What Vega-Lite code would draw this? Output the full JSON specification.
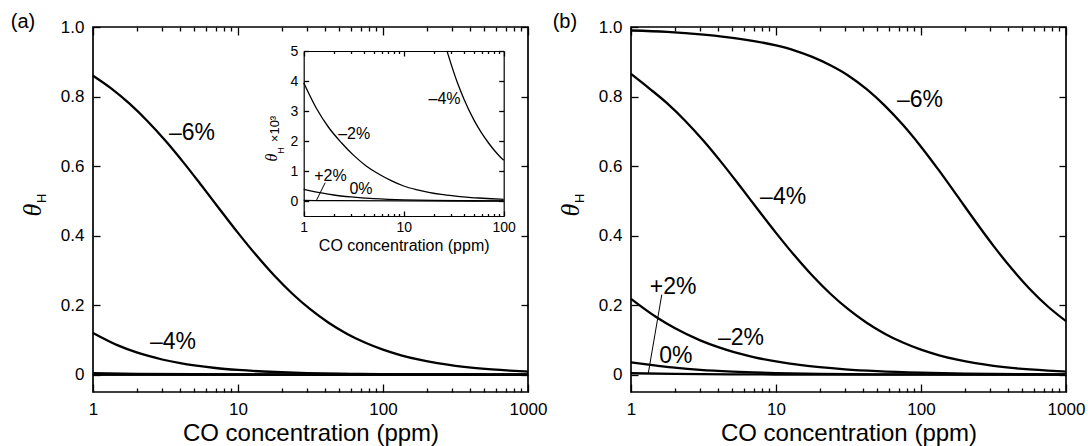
{
  "$schema": "https://vega.github.io/schema/vega-lite/v6.json",
  "padding": {"left": 9, "top": 11, "right": 0, "bottom": 0},
  "background": "white",
  "spacing": 3,
  "config": {
    "font": "Liberation Sans",
    "view": {"stroke": "black", "strokeWidth": 1.7},
    "axis": {"grid": false, "domain": false, "domainColor": "black", "tickColor": "black", "tickWidth": 1.3, "labelColor": "black", "titleColor": "black", "labelFont": "Liberation Sans", "titleFont": "Liberation Sans", "titleFontWeight": "normal", "labelFlush": false, "labelOverlap": false},
    "text": {"font": "Liberation Sans", "color": "black"}
  },
  "datasets": {
    "a": [
      {"x": 1, "y": 0.86, "s": "-6"}, {"x": 1.334, "y": 0.8236, "s": "-6"}, {"x": 1.778, "y": 0.7803, "s": "-6"}, {"x": 2.371, "y": 0.7298, "s": "-6"}, {"x": 3.162, "y": 0.6727, "s": "-6"}, {"x": 4.217, "y": 0.6099, "s": "-6"}, {"x": 5.623, "y": 0.5432, "s": "-6"}, {"x": 7.499, "y": 0.475, "s": "-6"}, {"x": 10, "y": 0.4077, "s": "-6"}, {"x": 13.34, "y": 0.3438, "s": "-6"}, {"x": 17.78, "y": 0.2849, "s": "-6"}, {"x": 23.71, "y": 0.2326, "s": "-6"}, {"x": 31.62, "y": 0.1874, "s": "-6"}, {"x": 42.17, "y": 0.1492, "s": "-6"}, {"x": 56.23, "y": 0.1177, "s": "-6"}, {"x": 74.99, "y": 0.0922, "s": "-6"}, {"x": 100, "y": 0.0717, "s": "-6"}, {"x": 133.4, "y": 0.0555, "s": "-6"}, {"x": 177.8, "y": 0.0428, "s": "-6"}, {"x": 237.1, "y": 0.0329, "s": "-6"}, {"x": 316.2, "y": 0.0252, "s": "-6"}, {"x": 421.7, "y": 0.0193, "s": "-6"}, {"x": 562.3, "y": 0.0148, "s": "-6"}, {"x": 749.9, "y": 0.0113, "s": "-6"}, {"x": 1000, "y": 0.0086, "s": "-6"},
      {"x": 1, "y": 0.12, "s": "-4"}, {"x": 1.5, "y": 0.0834, "s": "-4"}, {"x": 2, "y": 0.0638, "s": "-4"}, {"x": 3, "y": 0.0435, "s": "-4"}, {"x": 4, "y": 0.033, "s": "-4"}, {"x": 5, "y": 0.0265, "s": "-4"}, {"x": 7, "y": 0.019, "s": "-4"}, {"x": 10, "y": 0.0135, "s": "-4"}, {"x": 15, "y": 0.009, "s": "-4"}, {"x": 20, "y": 0.0068, "s": "-4"}, {"x": 30, "y": 0.0045, "s": "-4"}, {"x": 50, "y": 0.0027, "s": "-4"}, {"x": 70, "y": 0.0019, "s": "-4"}, {"x": 100, "y": 0.00136, "s": "-4"}, {"x": 200, "y": 0.00068, "s": "-4"}, {"x": 500, "y": 0.00027, "s": "-4"}, {"x": 1000, "y": 0.00014, "s": "-4"},
      {"x": 1, "y": 0.0039, "s": "-2"}, {"x": 2, "y": 0.0022, "s": "-2"}, {"x": 5, "y": 0.001, "s": "-2"}, {"x": 10, "y": 0.0005, "s": "-2"}, {"x": 30, "y": 0.00018, "s": "-2"}, {"x": 100, "y": 0.000056, "s": "-2"}, {"x": 1000, "y": 0.000006, "s": "-2"},
      {"x": 1, "y": 0.0004, "s": "0"}, {"x": 10, "y": 0.00004, "s": "0"}, {"x": 1000, "y": 0.0000004, "s": "0"},
      {"x": 1, "y": 0.00002, "s": "+2"}, {"x": 1000, "y": 0, "s": "+2"}
    ],
    "b": [
      {"x": 1, "y": 0.99, "s": "-6"}, {"x": 1.778, "y": 0.986, "s": "-6"}, {"x": 3.162, "y": 0.978, "s": "-6"}, {"x": 5.623, "y": 0.966, "s": "-6"}, {"x": 10, "y": 0.947, "s": "-6"}, {"x": 13.34, "y": 0.933, "s": "-6"}, {"x": 17.78, "y": 0.914, "s": "-6"}, {"x": 23.71, "y": 0.89, "s": "-6"}, {"x": 31.62, "y": 0.86, "s": "-6"}, {"x": 42.17, "y": 0.8212, "s": "-6"}, {"x": 56.23, "y": 0.774, "s": "-6"}, {"x": 74.99, "y": 0.7186, "s": "-6"}, {"x": 100, "y": 0.6557, "s": "-6"}, {"x": 133.4, "y": 0.5867, "s": "-6"}, {"x": 177.8, "y": 0.5142, "s": "-6"}, {"x": 237.1, "y": 0.4411, "s": "-6"}, {"x": 316.2, "y": 0.3705, "s": "-6"}, {"x": 421.7, "y": 0.305, "s": "-6"}, {"x": 562.3, "y": 0.2465, "s": "-6"}, {"x": 749.9, "y": 0.196, "s": "-6"}, {"x": 1000, "y": 0.1538, "s": "-6"},
      {"x": 1, "y": 0.865, "s": "-4"}, {"x": 1.334, "y": 0.8236, "s": "-4"}, {"x": 1.778, "y": 0.7803, "s": "-4"}, {"x": 2.371, "y": 0.7298, "s": "-4"}, {"x": 3.162, "y": 0.6727, "s": "-4"}, {"x": 4.217, "y": 0.6099, "s": "-4"}, {"x": 5.623, "y": 0.5432, "s": "-4"}, {"x": 7.499, "y": 0.475, "s": "-4"}, {"x": 10, "y": 0.4077, "s": "-4"}, {"x": 13.34, "y": 0.3438, "s": "-4"}, {"x": 17.78, "y": 0.2849, "s": "-4"}, {"x": 23.71, "y": 0.2326, "s": "-4"}, {"x": 31.62, "y": 0.1874, "s": "-4"}, {"x": 42.17, "y": 0.1492, "s": "-4"}, {"x": 56.23, "y": 0.1177, "s": "-4"}, {"x": 74.99, "y": 0.0922, "s": "-4"}, {"x": 100, "y": 0.0717, "s": "-4"}, {"x": 133.4, "y": 0.0555, "s": "-4"}, {"x": 177.8, "y": 0.0428, "s": "-4"}, {"x": 237.1, "y": 0.0329, "s": "-4"}, {"x": 316.2, "y": 0.0252, "s": "-4"}, {"x": 421.7, "y": 0.0193, "s": "-4"}, {"x": 562.3, "y": 0.0148, "s": "-4"}, {"x": 749.9, "y": 0.0113, "s": "-4"}, {"x": 1000, "y": 0.0086, "s": "-4"},
      {"x": 1, "y": 0.218, "s": "-2"}, {"x": 1.5, "y": 0.165, "s": "-2"}, {"x": 2, "y": 0.134, "s": "-2"}, {"x": 3, "y": 0.0986, "s": "-2"}, {"x": 4, "y": 0.079, "s": "-2"}, {"x": 5, "y": 0.066, "s": "-2"}, {"x": 7, "y": 0.0506, "s": "-2"}, {"x": 10, "y": 0.0379, "s": "-2"}, {"x": 15, "y": 0.0271, "s": "-2"}, {"x": 20, "y": 0.0214, "s": "-2"}, {"x": 30, "y": 0.0152, "s": "-2"}, {"x": 50, "y": 0.0099, "s": "-2"}, {"x": 100, "y": 0.0055, "s": "-2"}, {"x": 200, "y": 0.0031, "s": "-2"}, {"x": 500, "y": 0.0014, "s": "-2"}, {"x": 1000, "y": 0.0008, "s": "-2"},
      {"x": 1, "y": 0.035, "s": "0"}, {"x": 1.5, "y": 0.026, "s": "0"}, {"x": 2, "y": 0.02, "s": "0"}, {"x": 3, "y": 0.0135, "s": "0"}, {"x": 5, "y": 0.0085, "s": "0"}, {"x": 7, "y": 0.0062, "s": "0"}, {"x": 10, "y": 0.0045, "s": "0"}, {"x": 20, "y": 0.0023, "s": "0"}, {"x": 50, "y": 0.0009, "s": "0"}, {"x": 100, "y": 0.00045, "s": "0"}, {"x": 300, "y": 0.00015, "s": "0"}, {"x": 1000, "y": 0.00005, "s": "0"},
      {"x": 1, "y": 0.004, "s": "+2"}, {"x": 2, "y": 0.002, "s": "+2"}, {"x": 5, "y": 0.0008, "s": "+2"}, {"x": 10, "y": 0.0004, "s": "+2"}, {"x": 100, "y": 0.00004, "s": "+2"}, {"x": 1000, "y": 0.000004, "s": "+2"}
    ],
    "ins": [
      {"x": 27.1, "y": 5.0, "s": "-4"}, {"x": 30, "y": 4.53, "s": "-4"}, {"x": 35, "y": 3.88, "s": "-4"}, {"x": 40, "y": 3.4, "s": "-4"}, {"x": 50, "y": 2.72, "s": "-4"}, {"x": 60, "y": 2.27, "s": "-4"}, {"x": 70, "y": 1.95, "s": "-4"}, {"x": 80, "y": 1.7, "s": "-4"}, {"x": 90, "y": 1.51, "s": "-4"}, {"x": 100, "y": 1.36, "s": "-4"},
      {"x": 1, "y": 3.94, "s": "-2"}, {"x": 1.334, "y": 3.1, "s": "-2"}, {"x": 1.778, "y": 2.45, "s": "-2"}, {"x": 2.371, "y": 1.95, "s": "-2"}, {"x": 3.162, "y": 1.52, "s": "-2"}, {"x": 4.217, "y": 1.17, "s": "-2"}, {"x": 5.623, "y": 0.9, "s": "-2"}, {"x": 7.499, "y": 0.68, "s": "-2"}, {"x": 10, "y": 0.5, "s": "-2"}, {"x": 13.34, "y": 0.38, "s": "-2"}, {"x": 17.78, "y": 0.29, "s": "-2"}, {"x": 23.71, "y": 0.22, "s": "-2"}, {"x": 31.62, "y": 0.17, "s": "-2"}, {"x": 42.17, "y": 0.13, "s": "-2"}, {"x": 56.23, "y": 0.1, "s": "-2"}, {"x": 74.99, "y": 0.075, "s": "-2"}, {"x": 100, "y": 0.056, "s": "-2"},
      {"x": 1, "y": 0.39, "s": "0"}, {"x": 1.5, "y": 0.27, "s": "0"}, {"x": 2, "y": 0.2, "s": "0"}, {"x": 3, "y": 0.135, "s": "0"}, {"x": 5, "y": 0.08, "s": "0"}, {"x": 7, "y": 0.057, "s": "0"}, {"x": 10, "y": 0.04, "s": "0"}, {"x": 20, "y": 0.02, "s": "0"}, {"x": 50, "y": 0.008, "s": "0"}, {"x": 100, "y": 0.004, "s": "0"},
      {"x": 1, "y": 0.02, "s": "+2"}, {"x": 2, "y": 0.01, "s": "+2"}, {"x": 10, "y": 0.002, "s": "+2"}, {"x": 100, "y": 0.0002, "s": "+2"}
    ],
    "labA": [{"x": 4.82, "y": 0.695, "t": "–6%"}, {"x": 3.56, "y": 0.095, "t": "–4%"}],
    "labB": [{"x": 98.5, "y": 0.79, "t": "–6%"}, {"x": 11.2, "y": 0.51, "t": "–4%"}, {"x": 5.74, "y": 0.104, "t": "–2%"}, {"x": 2.04, "y": 0.055, "t": "0%"}, {"x": 1.95, "y": 0.251, "t": "+2%"}],
    "labI": [{"x": 25.6, "y": 3.39, "t": "–4%"}, {"x": 3.2, "y": 2.22, "t": "–2%"}, {"x": 1.85, "y": 0.83, "t": "+2%"}, {"x": 3.74, "y": 0.39, "t": "0%"}],
    "leadB": [{"x": 1.63, "y": 0.23, "x2": 1.316, "y2": 0.004}],
    "leadI": [{"x": 1.64, "y": 0.61, "x2": 1.34, "y2": 0.02}],
    "tagA": [{"x": 0.329, "y": 1.014, "t": "(a)"}],
    "tagB": [{"x": 0.35, "y": 1.014, "t": "(b)"}],
    "theta": [{"x": 0.386, "y": 0.473, "t": "θ"}],
    "sub": [{"x": 0.445, "y": 0.507, "t": "H"}],
    "thetaI": [{"x": 0.482, "y": 1.45, "t": "θ"}],
    "subI": [{"x": 0.588, "y": 1.68, "t": "H"}],
    "powI": [{"x": 0.516, "y": 2.4, "t": "×10³"}]
  },
  "hconcat": [
    {
      "width": 435,
      "height": 365,
      "layer": [
        {
          "layer": [
            {
              "data": {"name": "a"},
              "mark": {"type": "line", "stroke": "black", "strokeWidth": 2.3, "interpolate": "monotone"},
              "encoding": {
                "x": {"field": "x", "type": "quantitative", "scale": {"type": "log", "domain": [1, 1000], "nice": false}, "axis": {"orient": "bottom", "values": [1, 10, 100, 1000], "format": "d", "ticks": false, "labelPadding": 9, "labelFontSize": 17, "title": "CO concentration (ppm)", "titleFontSize": 24, "titlePadding": 4}},
                "y": {"field": "y", "type": "quantitative", "scale": {"domain": [-0.05, 1], "nice": false, "zero": false}, "axis": {"orient": "left", "values": [0, 0.2, 0.4, 0.6, 0.8, 1], "labelExpr": "datum.value == 0 ? '0' : format(datum.value, '.1f')", "ticks": false, "labelPadding": 9, "labelFontSize": 17, "title": null}},
                "detail": {"field": "s"}
              }
            },
            {
              "data": {"name": "labA"},
              "mark": {"type": "text", "fontSize": 23, "align": "center", "baseline": "middle"},
              "encoding": {
                "x": {"field": "x", "type": "quantitative", "scale": {"type": "log", "domain": [1, 1000], "nice": false}, "axis": {"orient": "top", "offset": -365, "values": [1, 10, 100, 1000], "tickSize": 8, "labels": false, "title": null}},
                "y": {"field": "y", "type": "quantitative", "scale": {"domain": [-0.05, 1], "nice": false, "zero": false}, "axis": {"orient": "right", "offset": -435, "values": [0, 0.2, 0.4, 0.6, 0.8, 1], "tickSize": 7, "labels": false, "title": null}},
                "text": {"field": "t"}
              }
            },
            {
              "data": {"name": "tagA"},
              "mark": {"type": "text", "fontSize": 20, "align": "center", "baseline": "middle"},
              "encoding": {
                "x": {"field": "x", "type": "quantitative", "scale": {"type": "log", "domain": [1, 1000], "nice": false}, "axis": {"orient": "top", "offset": -365, "values": [2, 3, 4, 5, 6, 7, 8, 9, 20, 30, 40, 50, 60, 70, 80, 90, 200, 300, 400, 500, 600, 700, 800, 900], "tickSize": 4, "labels": false, "title": null}},
                "y": {"field": "y", "type": "quantitative", "scale": {"domain": [-0.05, 1], "nice": false, "zero": false}, "axis": {"orient": "left", "offset": -435, "values": [0, 0.2, 0.4, 0.6, 0.8, 1], "tickSize": 7, "labels": false, "title": null}},
                "text": {"field": "t"}
              }
            },
            {
              "data": {"name": "theta"},
              "mark": {"type": "text", "fontSize": 26, "font": "Liberation Serif", "fontStyle": "italic", "angle": 270, "align": "center", "baseline": "middle"},
              "encoding": {
                "x": {"field": "x", "type": "quantitative", "scale": {"type": "log", "domain": [1, 1000], "nice": false}, "axis": {"orient": "bottom", "offset": -365, "values": [1, 10, 100, 1000], "tickSize": 8, "labels": false, "title": null}},
                "y": {"field": "y", "type": "quantitative", "scale": {"domain": [-0.05, 1], "nice": false, "zero": false}, "axis": null},
                "text": {"field": "t"}
              }
            },
            {
              "data": {"name": "sub"},
              "mark": {"type": "text", "fontSize": 13, "angle": 270, "align": "center", "baseline": "middle"},
              "encoding": {
                "x": {"field": "x", "type": "quantitative", "scale": {"type": "log", "domain": [1, 1000], "nice": false}, "axis": {"orient": "bottom", "offset": -365, "values": [2, 3, 4, 5, 6, 7, 8, 9, 20, 30, 40, 50, 60, 70, 80, 90, 200, 300, 400, 500, 600, 700, 800, 900], "tickSize": 4, "labels": false, "title": null}},
                "y": {"field": "y", "type": "quantitative", "scale": {"domain": [-0.05, 1], "nice": false, "zero": false}, "axis": null},
                "text": {"field": "t"}
              }
            }
          ],
          "resolve": {"axis": {"x": "independent", "y": "independent"}}
        },
        {
          "layer": [
            {
              "data": {"name": "ins"},
              "mark": {"type": "line", "stroke": "black", "strokeWidth": 1.3, "interpolate": "monotone"},
              "encoding": {
                "x": {"field": "x", "type": "quantitative", "scale": {"type": "log", "domain": [1, 100], "range": [210.7, 410.7], "nice": false}, "axis": {"orient": "bottom", "offset": -176, "values": [1, 10, 100], "format": "d", "ticks": false, "labelPadding": 4, "labelFontSize": 14, "title": "CO concentration (ppm)", "titleFontSize": 16, "titlePadding": 3, "domain": true, "domainWidth": 1.2}},
                "y": {"field": "y", "type": "quantitative", "scale": {"domain": [-0.5, 5], "range": [189, 24], "nice": false, "zero": false}, "axis": {"orient": "left", "offset": -210.7, "values": [0, 1, 2, 3, 4, 5], "ticks": false, "labelPadding": 6, "labelFontSize": 14, "title": null, "domain": true, "domainWidth": 1.2}},
                "detail": {"field": "s"}
              }
            },
            {
              "data": {"name": "labI"},
              "mark": {"type": "text", "fontSize": 16, "align": "center", "baseline": "middle"},
              "encoding": {
                "x": {"field": "x", "type": "quantitative", "scale": {"type": "log", "domain": [1, 100], "range": [210.7, 410.7], "nice": false}, "axis": {"orient": "top", "offset": -189, "values": [1, 10, 100], "tickSize": 5, "labels": false, "title": null}},
                "y": {"field": "y", "type": "quantitative", "scale": {"domain": [-0.5, 5], "range": [189, 24], "nice": false, "zero": false}, "axis": {"orient": "right", "offset": -224.3, "values": [0, 1, 2, 3, 4, 5], "tickSize": 5, "labels": false, "title": null}},
                "text": {"field": "t"}
              }
            },
            {
              "data": {"name": "leadI"},
              "mark": {"type": "rule", "stroke": "black", "strokeWidth": 1},
              "encoding": {
                "x": {"field": "x", "type": "quantitative", "scale": {"type": "log", "domain": [1, 100], "range": [210.7, 410.7], "nice": false}, "axis": {"orient": "top", "offset": -189, "values": [2, 3, 4, 5, 6, 7, 8, 9, 20, 30, 40, 50, 60, 70, 80, 90], "tickSize": 2.5, "labels": false, "title": null}},
                "y": {"field": "y", "type": "quantitative", "scale": {"domain": [-0.5, 5], "range": [189, 24], "nice": false, "zero": false}, "axis": {"orient": "left", "offset": -410.7, "values": [0, 1, 2, 3, 4, 5], "tickSize": 5, "labels": false, "title": null, "domain": true, "domainWidth": 1.2}},
                "x2": {"field": "x2"},
                "y2": {"field": "y2"}
              }
            },
            {
              "data": {"name": "thetaI"},
              "mark": {"type": "text", "fontSize": 16, "font": "Liberation Serif", "fontStyle": "italic", "angle": 270, "align": "center", "baseline": "middle"},
              "encoding": {
                "x": {"field": "x", "type": "quantitative", "scale": {"type": "log", "domain": [1, 100], "range": [210.7, 410.7], "nice": false}, "axis": {"orient": "bottom", "offset": -341, "values": [1, 10, 100], "tickSize": 5, "labels": false, "title": null, "domain": true, "domainWidth": 1.2}},
                "y": {"field": "y", "type": "quantitative", "scale": {"domain": [-0.5, 5], "range": [189, 24], "nice": false, "zero": false}, "axis": null},
                "text": {"field": "t"}
              }
            },
            {
              "data": {"name": "subI"},
              "mark": {"type": "text", "fontSize": 9, "angle": 270, "align": "center", "baseline": "middle"},
              "encoding": {
                "x": {"field": "x", "type": "quantitative", "scale": {"type": "log", "domain": [1, 100], "range": [210.7, 410.7], "nice": false}, "axis": {"orient": "bottom", "offset": -341, "values": [2, 3, 4, 5, 6, 7, 8, 9, 20, 30, 40, 50, 60, 70, 80, 90], "tickSize": 2.5, "labels": false, "title": null}},
                "y": {"field": "y", "type": "quantitative", "scale": {"domain": [-0.5, 5], "range": [189, 24], "nice": false, "zero": false}, "axis": null},
                "text": {"field": "t"}
              }
            },
            {
              "data": {"name": "powI"},
              "mark": {"type": "text", "fontSize": 13, "angle": 270, "align": "center", "baseline": "middle"},
              "encoding": {
                "x": {"field": "x", "type": "quantitative", "scale": {"type": "log", "domain": [1, 100], "range": [210.7, 410.7], "nice": false}, "axis": null},
                "y": {"field": "y", "type": "quantitative", "scale": {"domain": [-0.5, 5], "range": [189, 24], "nice": false, "zero": false}, "axis": null},
                "text": {"field": "t"}
              }
            }
          ],
          "resolve": {"axis": {"x": "independent", "y": "independent"}}
        }
      ],
      "resolve": {"scale": {"x": "independent", "y": "independent"}, "axis": {"x": "independent", "y": "independent"}}
    },
    {
      "width": 435,
      "height": 365,
      "layer": [
        {
          "data": {"name": "b"},
          "mark": {"type": "line", "stroke": "black", "strokeWidth": 2.3, "interpolate": "monotone"},
          "encoding": {
            "x": {"field": "x", "type": "quantitative", "scale": {"type": "log", "domain": [1, 1000], "nice": false}, "axis": {"orient": "bottom", "values": [1, 10, 100, 1000], "format": "d", "ticks": false, "labelPadding": 9, "labelFontSize": 17, "title": "CO concentration (ppm)", "titleFontSize": 24, "titlePadding": 4}},
            "y": {"field": "y", "type": "quantitative", "scale": {"domain": [-0.05, 1], "nice": false, "zero": false}, "axis": {"orient": "left", "values": [0, 0.2, 0.4, 0.6, 0.8, 1], "labelExpr": "datum.value == 0 ? '0' : format(datum.value, '.1f')", "ticks": false, "labelPadding": 9, "labelFontSize": 17, "title": null}},
            "detail": {"field": "s"}
          }
        },
        {
          "data": {"name": "labB"},
          "mark": {"type": "text", "fontSize": 23, "align": "center", "baseline": "middle"},
          "encoding": {
            "x": {"field": "x", "type": "quantitative", "scale": {"type": "log", "domain": [1, 1000], "nice": false}, "axis": {"orient": "top", "offset": -365, "values": [1, 10, 100, 1000], "tickSize": 8, "labels": false, "title": null}},
            "y": {"field": "y", "type": "quantitative", "scale": {"domain": [-0.05, 1], "nice": false, "zero": false}, "axis": {"orient": "right", "offset": -435, "values": [0, 0.2, 0.4, 0.6, 0.8, 1], "tickSize": 7, "labels": false, "title": null}},
            "text": {"field": "t"}
          }
        },
        {
          "data": {"name": "leadB"},
          "mark": {"type": "rule", "stroke": "black", "strokeWidth": 1},
          "encoding": {
            "x": {"field": "x", "type": "quantitative", "scale": {"type": "log", "domain": [1, 1000], "nice": false}, "axis": {"orient": "top", "offset": -365, "values": [2, 3, 4, 5, 6, 7, 8, 9, 20, 30, 40, 50, 60, 70, 80, 90, 200, 300, 400, 500, 600, 700, 800, 900], "tickSize": 4, "labels": false, "title": null}},
            "y": {"field": "y", "type": "quantitative", "scale": {"domain": [-0.05, 1], "nice": false, "zero": false}, "axis": {"orient": "left", "offset": -435, "values": [0, 0.2, 0.4, 0.6, 0.8, 1], "tickSize": 7, "labels": false, "title": null}},
            "x2": {"field": "x2"},
            "y2": {"field": "y2"}
          }
        },
        {
          "data": {"name": "tagB"},
          "mark": {"type": "text", "fontSize": 20, "align": "center", "baseline": "middle"},
          "encoding": {
            "x": {"field": "x", "type": "quantitative", "scale": {"type": "log", "domain": [1, 1000], "nice": false}, "axis": {"orient": "bottom", "offset": -365, "values": [1, 10, 100, 1000], "tickSize": 8, "labels": false, "title": null}},
            "y": {"field": "y", "type": "quantitative", "scale": {"domain": [-0.05, 1], "nice": false, "zero": false}, "axis": null},
            "text": {"field": "t"}
          }
        },
        {
          "data": {"name": "theta"},
          "mark": {"type": "text", "fontSize": 26, "font": "Liberation Serif", "fontStyle": "italic", "angle": 270, "align": "center", "baseline": "middle"},
          "encoding": {
            "x": {"field": "x", "type": "quantitative", "scale": {"type": "log", "domain": [1, 1000], "nice": false}, "axis": {"orient": "bottom", "offset": -365, "values": [2, 3, 4, 5, 6, 7, 8, 9, 20, 30, 40, 50, 60, 70, 80, 90, 200, 300, 400, 500, 600, 700, 800, 900], "tickSize": 4, "labels": false, "title": null}},
            "y": {"field": "y", "type": "quantitative", "scale": {"domain": [-0.05, 1], "nice": false, "zero": false}, "axis": null},
            "text": {"field": "t"}
          }
        },
        {
          "data": {"name": "sub"},
          "mark": {"type": "text", "fontSize": 13, "angle": 270, "align": "center", "baseline": "middle"},
          "encoding": {
            "x": {"field": "x", "type": "quantitative", "scale": {"type": "log", "domain": [1, 1000], "nice": false}, "axis": null},
            "y": {"field": "y", "type": "quantitative", "scale": {"domain": [-0.05, 1], "nice": false, "zero": false}, "axis": null},
            "text": {"field": "t"}
          }
        }
      ],
      "resolve": {"axis": {"x": "independent", "y": "independent"}}
    }
  ]
}
